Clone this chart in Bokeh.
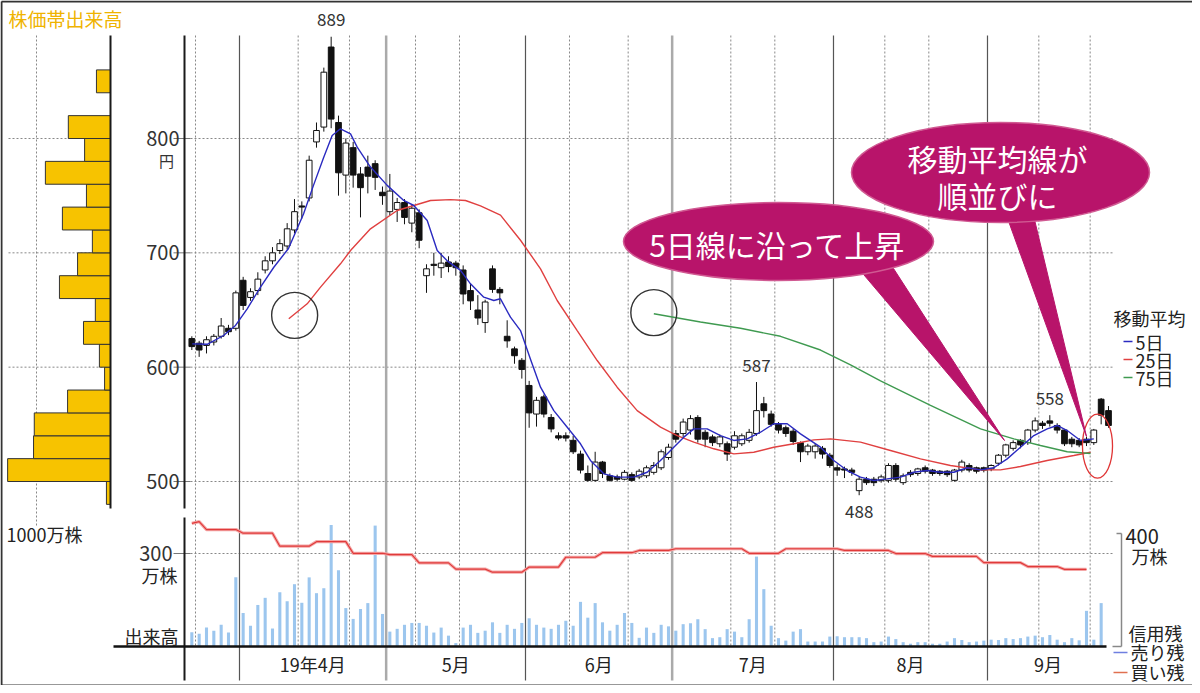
from bokeh.plotting import figure
from bokeh.models import Range1d
from bokeh.core.properties import value
from bokeh.embed import file_html
from bokeh.resources import INLINE

JP = value("Noto Sans CJK JP")

# ------------------------------------------------------------------ data
# daily candles, trading-day index 0 = 2019-03-20
opens  = [625,621,619,622,627,634,634,676,661,667,685,693,702,706,720,741,748,797,810,880,
          814,768,792,769,775,778,753,736,738,744,726,735,680,690,687,692,691,685,667,650,
          639,686,668,627,616,606,584,559,574,556,540,540,536,524,507,501,517,505,504,502,
          506,504,505,508,512,521,542,542,545,556,543,539,533,533,530,533,536,542,568,559,
          550,547,544,534,526,526,529,523,512,511,510,492,502,502,501,501,514,499,508,507,
          512,510,509,509,501,510,514,512,512,511,516,523,529,536,534,545,551,553,549,545,
          537,536,537,534,572,562]
highs  = [627,623,627,629,643,637,667,679,669,683,697,705,712,726,747,745,785,814,862,889,
          820,800,797,775,785,781,758,769,748,747,742,738,690,700,700,697,693,689,673,663,
          659,689,670,641,618,608,588,574,576,559,543,543,540,527,514,526,518,507,506,510,
          508,511,514,517,528,533,545,555,558,558,545,541,541,535,544,542,546,587,574,562,
          552,549,546,535,533,533,531,525,515,513,512,504,504,504,506,516,516,507,510,512,
          514,511,510,510,511,519,516,513,513,515,524,533,536,537,546,556,553,558,551,546,
          539,538,539,546,573,566]
lows   = [615,609,612,619,625,628,632,650,658,663,682,690,699,703,717,730,745,792,806,809,
          750,752,757,731,752,755,742,733,727,725,718,704,665,680,678,683,680,655,650,637,
          630,665,655,617,603,590,547,548,556,543,536,535,524,507,500,500,503,500,500,501,
          500,502,503,506,510,519,534,539,541,534,530,531,530,518,528,531,534,540,556,548,
          542,539,532,517,523,520,520,512,505,503,505,488,497,496,499,499,500,497,504,505,
          507,505,505,504,500,508,508,507,508,509,514,521,527,529,532,543,546,548,542,531,
          530,530,531,532,550,547]
closes = [618,615,624,627,636,631,665,654,666,677,693,700,708,721,736,740,781,807,858,817,
          770,796,768,757,767,766,750,754,744,731,739,711,686,689,691,688,687,664,658,643,
          657,668,665,623,610,598,560,571,559,546,538,538,526,510,501,517,507,501,502,508,
          501,509,512,514,526,530,537,552,555,537,537,534,539,524,540,540,543,562,562,550,
          545,542,535,526,531,531,524,514,510,510,508,502,499,499,504,514,502,505,506,511,
          509,507,507,506,510,517,510,509,510,514,523,532,534,532,545,553,549,551,545,533,
          533,532,534,545,558,549]

# daily volume (万株)
volume = [46,41,61,51,70,45,223,108,67,134,157,58,175,146,201,141,223,172,188,392,
          246,124,89,121,140,390,105,48,57,70,76,76,67,45,61,35,11,61,70,44,
          51,78,44,70,57,76,91,70,61,57,70,83,67,144,93,140,78,51,70,108,
          76,28,61,44,70,65,51,72,75,88,56,27,30,56,48,30,88,290,185,67,
          27,19,48,56,16,16,16,32,33,30,30,30,27,14,16,32,24,14,9,14,
          14,9,9,16,27,21,14,16,19,22,21,27,24,27,32,35,30,37,22,14,
          27,20,115,22,140,0]

# moving averages (day index, yen)
ma5_day = [0.05,2.1,4.32,5.96,7.55,9.36,11.18,13.18,15.23,16.59,17.95,19.14,20.27,21.64,22.55,
           24.36,26.64,28.9,30.27,32.1,33.46,34.82,36.64,38.0,39.81,41.18,42.09,43.45,44.82,
           46.18,47.55,49.36,51.19,53.0,54.36,56.18,58.0,60.27,62.1,63.91,65.72,67.09,68.45,
           70.28,72.09,73.91,75.73,77.55,79.36,81.19,83.0,85.73,87.54,89.36,91.18,93.0,94.82,
           96.64,98.45,100.28,102.09,103.91,105.73,107.55,109.36,111.19,113.0,114.82,116.64,
           118.0,119.37,121.18,123.0]
ma5_val = [620.4,620,627.7,636.5,651,670,687.4,703.8,734,759,783,802.6,808.5,804,792.4,
           775,759,745.8,741.4,728.3,702,693,684.6,672.9,661.2,658.3,659.8,643.7,632,
           607,582.5,562,547.5,533,518.4,506.7,503.8,503.8,508.1,518.4,530,538.8,546,
           546,540.2,535.9,537.3,543.1,550.5,550.5,541.7,530,518.4,509.6,503.8,500.9,502.3,
           503.8,508.1,509.6,508.1,508.1,512,510.2,512,519.8,530,540.2,546,
           549,544.6,535.9,537.3]
ma25_day = [13.22,15.73,17.55,20.27,21.64,24.36,28.0,32.55,35.27,37.32,39.36,42.09,44.82,47.55,
            49.82,52.55,55.28,58.0,60.73,63.91,66.19,68.45,71.18,73.91,76.63,79.36,82.09,84.81,
            87.09,91.18,95.27,99.36,103.45,107.55,110.27,113.0,116.64,120.27,122.55]
ma25_val = [642.3,655.4,670,690.4,702,721,737,745.8,746.5,745.8,741,733,711,686,
            658.3,632,605.8,582.5,562,547.5,540.2,534.4,528.6,524.2,525.6,530,533,536.4,
            537.3,534.4,527.1,519.8,514,510.2,510.2,513.1,518.4,522.7,525.6]
ma75_day = [63.0,69.36,74.82,80.27,85.73,89.82,93.91,100.73,107.55,112.09,115.73,119.37,122.55]
ma75_val = [646.7,639.5,634,627,615,602,588,566.5,546,537.3,531.5,526,524.5]

# margin buying balance (万株): weekly figure, day index where it changes
credit_day = [0,1,2,7,12,17,22,27,31,36,41,46,51,56,61,66,76,81,89,96,101,108,114,119]
credit_buy = [436,442,414,401,355,371,330,325,296,274,263,281,316,332,340,346,330,346,340,329,319,297,283,273]
credit_last_day = 122

# volume by price band (株価帯出来高), 20-yen bands, 万株
band_low = [480,500,520,540,560,580,600,620,640,660,680,700,720,740,760,780,800,820,840]
band_vol = [55,1390,1040,1030,580,80,150,365,205,690,445,245,650,325,880,350,570,0,190]

price_ticks = [800, 700, 600, 500]
month_labels = ["19年4月", "5月", "6月", "7月", "8月", "9月"]
month_first_day = [7, 27, 46, 66, 88, 109]
grid_days = [0, 14, 21, 30, 36, 51, 59, 73, 79, 94, 100, 115, 122]   # 10th / 20th of month
hi_label_days = [19, 77, 117]
lo_label_days = [91]

# ------------------------------------------------------------------ layout (picture pixels)
W, H = 1192, 685
PX0, PX1, PY0, PY1 = 0, W, 0, H
DAY_X0, DAY_DX = 191.33, 7.3333
PRICE_Y500, PRICE_PPY = 481.0, 343.0 / 300.0
VOL_Y0, VOL_PPU = 646.0, 0.31
CR_Y0, CR_PPU = 646.0, 113.0 / 400.0
PF_X0, PF_PPU = 110.0, 0.074

def day_at(px):
    return (px - DAY_X0) / DAY_DX

def price_at(py):
    return 500 + (PRICE_Y500 - py) / PRICE_PPY

p = figure(width=W, height=H, output_backend="svg", toolbar_location=None,
           x_range=Range1d(day_at(PX0), day_at(PX1)),
           y_range=Range1d(price_at(PY1), price_at(PY0)),
           x_axis_location=None, y_axis_location=None,
           min_border=0, min_border_left=0, min_border_right=0,
           min_border_top=0, min_border_bottom=0)
p.grid.visible = False
p.outline_line_color = None
p.background_fill_color = "white"
p.border_fill_color = "white"
p.extra_x_ranges = {"px": Range1d(PX0, PX1),
                    "pf": Range1d((PF_X0 - PX0) / PF_PPU, (PF_X0 - PX1) / PF_PPU)}
p.extra_y_ranges = {"py": Range1d(PY1, PY0),
                    "vol": Range1d(-(PY1 - VOL_Y0) / VOL_PPU, (VOL_Y0 - PY0) / VOL_PPU),
                    "cr": Range1d(-(PY1 - CR_Y0) / CR_PPU, (CR_Y0 - PY0) / CR_PPU)}

n = len(closes)
days = list(range(n))
DOT = "2 2"

# outer frame of the picture
p.segment(x0=[1, 1, 1], x1=[1, 1192, 1192], y0=[1, 1, 687], y1=[687, 1, 687],
          x_range_name="px", y_range_name="py", line_color="#333333", line_width=[2, 2, 6])

# ---- grid: horizontal dotted price lines (profile part and chart part)
p.segment(x0=[8]*len(price_ticks), x1=[110]*len(price_ticks), y0=price_ticks, y1=price_ticks,
          x_range_name="px", line_color="#888888", line_dash=DOT, line_width=1)
p.segment(x0=[190]*len(price_ticks), x1=[1112]*len(price_ticks), y0=price_ticks, y1=price_ticks,
          x_range_name="px", line_color="#888888", line_dash=DOT, line_width=1)
p.segment(x0=[173]*len(price_ticks), x1=[190]*len(price_ticks), y0=price_ticks, y1=price_ticks,
          x_range_name="px", line_color="#777777", line_width=1)
# volume 300 line
p.segment(x0=[190], x1=[1112], y0=[300], y1=[300], x_range_name="px", y_range_name="vol",
          line_color="#888888", line_dash=DOT, line_width=1)
p.segment(x0=[173], x1=[190], y0=[300], y1=[300], x_range_name="px", y_range_name="vol",
          line_color="#777777", line_width=1)
# vertical dotted lines on the 10th / 20th
gx = [d + 0.5 for d in grid_days]
p.segment(x0=gx, x1=gx, y0=[35]*len(gx), y1=[646]*len(gx), y_range_name="py",
          line_color="#888888", line_dash=DOT, line_width=1)
# month boundary lines
mx = [d - 0.5 for d in month_first_day]
thick = [False, True, False, True, False, False]
p.segment(x0=[x for x, t in zip(mx, thick) if not t], x1=[x for x, t in zip(mx, thick) if not t],
          y0=35, y1=680, y_range_name="py", line_color="#555555", line_width=1.2)
p.segment(x0=[x for x, t in zip(mx, thick) if t], x1=[x for x, t in zip(mx, thick) if t],
          y0=35, y1=680, y_range_name="py", line_color="#aaaaaa", line_width=2.5)

# profile dotted 1000万 line
p.segment(x0=[1000], x1=[1000], y0=[35], y1=[525], x_range_name="pf", y_range_name="py",
          line_color="#888888", line_dash=DOT, line_width=1)

# ---- volume bars
p.vbar(x=days, top=volume, bottom=0, width=0.42, y_range_name="vol",
       fill_color="#9cc6ee", line_color=None)
# ---- credit balance (step data)
cr_x, cr_y = [], []
k = 0
for d in range(credit_last_day + 1):
    while k + 1 < len(credit_day) and credit_day[k + 1] <= d:
        k += 1
    cr_x.append(d)
    cr_y.append(credit_buy[k])
p.line(cr_x, cr_y, y_range_name="cr", line_color="#f4a8a8", line_width=3.2)
p.line(cr_x, cr_y, y_range_name="cr", line_color="#e03a3a", line_width=1.2)

# ---- price-band volume profile
band_mid = [b + 10 for b in band_low]
p.hbar(y=band_mid, height=20, left=0, right=band_vol, x_range_name="pf",
       fill_color="#f7c300", line_color="#333333", line_width=1)

# ---- frame lines
p.segment(x0=[184, 184, 110], x1=[184, 184, 110], y0=[35, 517, 35], y1=[508, 680, 508],
          x_range_name="px", y_range_name="py", line_color="#1a1a1a", line_width=2)
p.segment(x0=[113], x1=[1106], y0=[646], y1=[646], x_range_name="px", y_range_name="py",
          line_color="#111111", line_width=2.5)
# credit scale bracket
p.segment(x0=[1121, 1116, 1112], x1=[1121, 1121, 1121], y0=[0, 400, 0], y1=[400, 400, 0],
          x_range_name="px", y_range_name="cr", line_color="#888888", line_width=1.5)

# ---- candles
up = [c >= o for o, c in zip(opens, closes)]
p.segment(x0=days, x1=days, y0=lows, y1=highs, line_color="#111111", line_width=1)
wd = [d for d, u in zip(days, up) if u]
p.vbar(x=wd, bottom=[opens[d] for d in wd], top=[max(closes[d], opens[d] + 0.6) for d in wd],
       width=0.78, fill_color="white", line_color="#111111", line_width=1)
bd = [d for d, u in zip(days, up) if not u]
p.vbar(x=bd, bottom=[closes[d] for d in bd], top=[max(opens[d], closes[d] + 0.6) for d in bd],
       width=0.78, fill_color="#111111", line_color="#111111", line_width=1)

# ---- moving averages
p.line(ma25_day, ma25_val, line_color="#e04040", line_width=1.4)
p.line(ma75_day, ma75_val, line_color="#3f9a50", line_width=1.4)
p.line(ma5_day, ma5_val, line_color="#2a2ac0", line_width=1.4)

# circles marking where 25日 / 75日 lines begin
p.scatter(x=[ma25_day[0] + 0.8, ma75_day[0]], y=[ma25_val[0] + 3, ma75_val[0] + 1], size=46,
          marker="circle", fill_color=None, line_color="#333333", line_width=1.4)
# red ellipse round the latest candles
p.ellipse(x=[n - 2.5], y=[531], width=4.1, height=56, fill_color=None,
          line_color="#e03535", line_width=1.3)

# ---- callouts
MAG = "#b8146a"
p.patches(xs=[[858, 893, 1004], [1006, 1033, 1086]], ys=[[268, 268, 440], [215, 215, 436]],
          x_range_name="px", y_range_name="py", fill_color=MAG, line_color=MAG)
p.ellipse(x=[1000, 778], y=[172, 241], width=[298, 310], height=[100, 78],
          x_range_name="px", y_range_name="py", fill_color=MAG, line_color="#d05a92", line_width=1.5)
p.text(x=[997, 997, 777], y=[157, 194, 243], text=["移動平均線が", "順並びに", "5日線に沿って上昇"],
       x_range_name="px", y_range_name="py", text_font=JP, text_font_size="30px",
       text_color="white", text_align="center", text_baseline="middle")

# ---- value labels
p.text(x=hi_label_days, y=[highs[d] for d in hi_label_days], text=[str(highs[d]) for d in hi_label_days],
       y_offset=-17, text_font=JP, text_font_size="17px", text_color="#333333",
       text_align="center", text_baseline="middle")
p.text(x=lo_label_days, y=[lows[d] for d in lo_label_days], text=[str(lows[d]) for d in lo_label_days],
       y_offset=16, text_font=JP, text_font_size="17px", text_color="#333333",
       text_align="center", text_baseline="middle")

# ---- axis texts
p.text(x=[179]*len(price_ticks), y=price_ticks, text=[str(t) for t in price_ticks], x_range_name="px",
       text_font=JP, text_font_size="20px", text_color="#333333", text_align="right", text_baseline="middle")
p.text(x=[166], y=[price_ticks[0]], text=["円"], x_range_name="px", y_offset=22,
       text_font=JP, text_font_size="15px", text_color="#333333", text_align="center", text_baseline="middle")
p.text(x=[172], y=[300], text=["300"], x_range_name="px", y_range_name="vol",
       text_font=JP, text_font_size="20px", text_color="#333333", text_align="right", text_baseline="middle")
p.text(x=[159, 151], y=[574, 635], text=["万株", "出来高"], x_range_name="px", y_range_name="py",
       text_font=JP, text_font_size="18px", text_color="#222222", text_align="center", text_baseline="middle")

# month labels
mc = []
for i, d in enumerate(month_first_day):
    end = month_first_day[i + 1] - 0.5 if i + 1 < len(month_first_day) else n - 1
    mc.append((d - 0.5 + end) / 2)
p.text(x=mc, y=[663]*len(mc), text=month_labels, y_range_name="py",
       text_font=JP, text_font_size="18px", text_color="#222222", text_align="center", text_baseline="middle")

# profile texts
p.text(x=[8], y=[18], text=["株価帯出来高"], x_range_name="px", y_range_name="py",
       text_font=JP, text_font_size="19px", text_color="#efb300", text_align="left", text_baseline="middle")
p.text(x=[6], y=[533], text=["1000万株"], x_range_name="px", y_range_name="py",
       text_font=JP, text_font_size="18px", text_color="#222222", text_align="left", text_baseline="middle")

# right side legend
p.text(x=[1113], y=[317], text=["移動平均"], x_range_name="px", y_range_name="py",
       text_font=JP, text_font_size="18px", text_color="#222222", text_align="left", text_baseline="middle")
p.segment(x0=[1123]*3, x1=[1132]*3, y0=[341, 359, 377], y1=[341, 359, 377],
          x_range_name="px", y_range_name="py", line_color=["#2a2ac0", "#e04040", "#3f9a50"], line_width=1.5)
p.text(x=[1135]*3, y=[341, 359, 377], text=["5日", "25日", "75日"], x_range_name="px", y_range_name="py",
       text_font=JP, text_font_size="18px", text_color="#222222", text_align="left", text_baseline="middle")
p.text(x=[1125], y=[400], text=["400"], x_range_name="px", y_range_name="cr", y_offset=3,
       text_font=JP, text_font_size="20px", text_color="#222222", text_align="left", text_baseline="middle")
p.text(x=[1149, 1155], y=[555, 632], text=["万株", "信用残"], x_range_name="px", y_range_name="py",
       text_font=JP, text_font_size="18px", text_color="#222222", text_align="center", text_baseline="middle")
p.segment(x0=[1113, 1113], x1=[1127, 1127], y0=[652, 672], y1=[652, 672],
          x_range_name="px", y_range_name="py", line_color=["#6f7fe0", "#e07050"], line_width=1.5)
p.text(x=[1130, 1130], y=[651, 671], text=["売り残", "買い残"], x_range_name="px", y_range_name="py",
       text_font=JP, text_font_size="18px", text_color="#222222", text_align="left", text_baseline="middle")

open("out.html", "w").write(file_html(p, INLINE))
